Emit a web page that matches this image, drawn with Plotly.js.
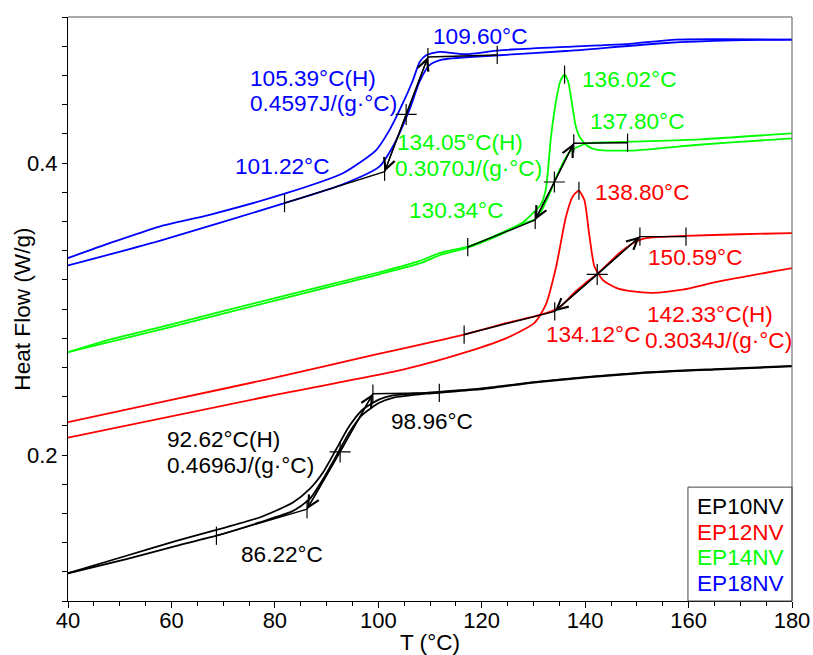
<!DOCTYPE html>
<html><head><meta charset="utf-8">
<script src="https://cdn.plot.ly/plotly-3.0.1.min.js"></script>
<style>body{margin:0;background:#fff}</style>
</head><body><div id="chart" style="width:813px;height:655px"></div>
<script>
// ---- data ----
const seriesNames = ['EP10NV', 'EP12NV', 'EP14NV', 'EP18NV'];
const seriesColors = ['#000000', '#ff0000', '#00ff00', '#0000ff'];

// EP10NV (two scans)
const ep10aT = [40, 51.3, 60.95, 68.7, 77.04, 83.5, 86.7, 89.3, 91.86, 94.4, 97.0, 100.2, 102.8, 109.25, 119.56, 131, 150.5, 165, 180];
const ep10aH = [0.1190, 0.1310, 0.1412, 0.1487, 0.1572, 0.1675, 0.1766, 0.1880, 0.2039, 0.2198, 0.2312, 0.2381, 0.2408, 0.2426, 0.2454, 0.2503, 0.2563, 0.2588, 0.2610];
const ep10bT = [40, 51.3, 60.95, 68.7, 77.04, 83.5, 86.7, 89.3, 91.86, 94.4, 97.0, 100.2, 102.8, 109.25, 119.56, 131, 150.5, 165, 180];
const ep10bH = [0.1190, 0.1287, 0.1378, 0.1447, 0.1538, 0.1617, 0.1697, 0.1834, 0.1993, 0.2155, 0.2278, 0.2358, 0.2392, 0.2420, 0.2449, 0.2500, 0.2560, 0.2585, 0.2607];

// EP12NV
const ep12aT = [40, 60, 78.3, 100, 116.6, 124.9, 130, 133, 135, 138, 140, 142.2, 144, 146.6, 149, 151, 153, 159.5, 170, 180];
const ep12aH = [0.2225, 0.2377, 0.2517, 0.2692, 0.2825, 0.2905, 0.2948, 0.2978, 0.3010, 0.3115, 0.3175, 0.3237, 0.3295, 0.3383, 0.3445, 0.3478, 0.3490, 0.3501, 0.3512, 0.3520];
const ep12bT = [40, 78.3, 104.95, 117.6, 124.9, 130.2, 132.4, 134.4, 136.3, 137.6, 138.75, 139.84, 140.8, 141.8, 143.4, 146, 149.2, 153, 158.8, 165.9, 180];
const ep12bH = [0.2119, 0.2399, 0.2586, 0.2711, 0.2802, 0.2905, 0.3030, 0.3291, 0.3633, 0.3770, 0.3810, 0.3747, 0.3508, 0.3291, 0.3200, 0.3145, 0.3120, 0.3110, 0.3132, 0.3189, 0.3280];

// EP14NV
const ep14aT = [40, 48, 60, 80, 100, 108, 112, 117.3, 123.4, 128, 129.9, 131.5, 132.4, 133.4, 134.4, 135.2, 136.0, 136.7, 137.4, 138.2, 139, 140.5, 142.5, 149, 162, 175, 180];
const ep14aH = [0.2704, 0.2790, 0.2895, 0.3075, 0.3250, 0.3330, 0.3385, 0.3428, 0.3515, 0.3595, 0.3656, 0.3720, 0.3820, 0.4180, 0.4430, 0.4560, 0.4605, 0.4560, 0.4420, 0.4250, 0.4175, 0.4115, 0.4090, 0.4085, 0.4125, 0.4157, 0.4169];
const ep14bT = [40, 60, 80, 100, 108, 112, 117.3, 123.4, 128, 130.3, 131.5, 133, 134.5, 136, 137, 138.5, 140.5, 149.2, 162.1, 180];
const ep14bH = [0.2704, 0.2878, 0.3058, 0.3236, 0.3312, 0.3370, 0.3420, 0.3505, 0.3585, 0.3615, 0.3670, 0.3780, 0.3910, 0.4020, 0.4075, 0.4110, 0.4135, 0.4146, 0.4162, 0.4203];

// EP18NV
const ep18aT = [40, 48.06, 57.7, 67.38, 82.2, 93.14, 99.6, 102.16, 104.73, 106.7, 108, 109.25, 111.8, 117, 123.4, 136.3, 149.2, 157.6, 180];
const ep18aH = [0.3349, 0.3451, 0.3565, 0.3645, 0.3793, 0.3930, 0.4089, 0.4225, 0.4408, 0.4567, 0.4692, 0.4738, 0.4761, 0.4745, 0.4772, 0.4795, 0.4818, 0.4845, 0.4845];
const ep18bT = [40, 57.7, 81.87, 93.14, 100.2, 102.8, 106.0, 107.96, 109.9, 112.5, 123.4, 136.3, 155.6, 168.5, 180];
const ep18bH = [0.3298, 0.3467, 0.3725, 0.3854, 0.3975, 0.4111, 0.4362, 0.4556, 0.4670, 0.4709, 0.4738, 0.4767, 0.4822, 0.4840, 0.4845];

// glass transition analysis: [start tick, onset, midpoint, end, end tick]
const tgT = {
  EP10NV: [68.7, 86.22, 92.62, 98.96, 111.8],
  EP12NV: [116.6, 134.12, 142.33, 150.59, 159.5],
  EP14NV: [117.3, 130.34, 134.05, 137.80, 148.2],
  EP18NV: [81.87, 101.22, 105.39, 109.60, 123.0]
};
const tgH = {
  EP10NV: [0.1447, 0.1629, 0.2021, 0.2420, 0.2426],
  EP12NV: [0.2825, 0.2984, 0.3237, 0.3496, 0.3496],
  EP14NV: [0.3424, 0.3610, 0.3870, 0.4135, 0.4139],
  EP18NV: [0.3725, 0.3940, 0.4333, 0.4726, 0.4740]
};
const cpStep = {EP10NV: '0.4696', EP12NV: '0.3034', EP14NV: '0.3070', EP18NV: '0.4597'};
// relaxation peaks
const peakT = {EP12NV: 138.80, EP14NV: 136.02};
const peakH = {EP12NV: 0.3810, EP14NV: 0.4605};

// ---- build ----
const curves = {
  EP10NV: [[ep10aT, ep10aH], [ep10bT, ep10bH]],
  EP12NV: [[ep12aT, ep12aH], [ep12bT, ep12bH]],
  EP14NV: [[ep14aT, ep14aH], [ep14bT, ep14bH]],
  EP18NV: [[ep18aT, ep18aH], [ep18bT, ep18bH]]
};
const FONT = 'Liberation Sans, Arial, sans-serif';
const TXT = 22.6;
const traces = [];
seriesNames.forEach((n, i) => {
  curves[n].forEach(c => traces.push({
    x: c[0], y: c[1], type: 'scatter', mode: 'lines', showlegend: false,
    line: {color: seriesColors[i], width: 1.8, shape: 'spline', smoothing: 0.6},
    hoverinfo: 'skip'
  }));
});
seriesNames.forEach(n => {
  const t = tgT[n], h = tgH[n];
  traces.push({x: t, y: h, type: 'scatter', mode: 'lines', showlegend: false,
    line: {color: '#000', width: 1.4}, hoverinfo: 'skip'});
  const tx = [t[0], t[1], t[3], t[4]], ty = [h[0], h[1], h[3], h[4]];
  if (peakT[n] !== undefined) { tx.push(peakT[n]); ty.push(peakH[n]); }
  traces.push({x: tx, y: ty, type: 'scatter', mode: 'markers', showlegend: false,
    marker: {symbol: 'line-ns', size: 13, color: '#000', line: {width: 1.2, color: '#000'}}, hoverinfo: 'skip'});
  traces.push({x: [t[2]], y: [h[2]], type: 'scatter', mode: 'markers', showlegend: false,
    marker: {symbol: 'cross-thin', size: 15, color: '#000', line: {width: 1.2, color: '#000'}}, hoverinfo: 'skip'});
});

const annotations = [];
seriesNames.forEach(n => {
  const t = tgT[n], h = tgH[n];
  [1, 3].forEach(k => annotations.push({
    x: t[k], y: h[k], ax: t[2], ay: h[2], xref: 'x', yref: 'y', axref: 'x', ayref: 'y',
    text: '', showarrow: true, arrowhead: 5, arrowsize: 1.7, arrowwidth: 1.3, arrowcolor: '#000', standoff: 0, startstandoff: 0
  }));
});
const fmt = v => v.toFixed(2) + '°C';
function label(text, x, y, color) {
  annotations.push({x: x, y: y, xref: 'x', yref: 'y', text: text, showarrow: false,
    xanchor: 'left', yanchor: 'middle', font: {family: FONT, size: TXT, color: color}});
}
const col = {}; seriesNames.forEach((n, i) => col[n] = seriesColors[i]);
// EP18NV labels
label(fmt(tgT.EP18NV[3]), 110.2, 0.4868, col.EP18NV);
label(fmt(tgT.EP18NV[2]) + '(H)', 74.9, 0.4578, col.EP18NV);
label(cpStep.EP18NV + 'J/(g·°C)', 74.8, 0.4407, col.EP18NV);
label(fmt(tgT.EP18NV[1]), 71.9, 0.3977, col.EP18NV);
// EP14NV labels
label(fmt(peakT.EP14NV), 139.1, 0.4575, col.EP14NV);
label(fmt(tgT.EP14NV[3]), 140.6, 0.4281, col.EP14NV);
label(fmt(tgT.EP14NV[2]) + '(H)', 103.3, 0.4138, col.EP14NV);
label(cpStep.EP14NV + 'J/(g·°C)', 102.9, 0.3964, col.EP14NV);
label(fmt(tgT.EP14NV[1]), 105.6, 0.3676, col.EP14NV);
// EP12NV labels
label(fmt(peakT.EP12NV), 141.6, 0.3801, col.EP12NV);
label(fmt(tgT.EP12NV[3]), 151.7, 0.3356, col.EP12NV);
label(fmt(tgT.EP12NV[1]), 132.0, 0.2827, col.EP12NV);
label(fmt(tgT.EP12NV[2]) + '(H)', 151.6, 0.2960, col.EP12NV);
label(cpStep.EP12NV + 'J/(g·°C)', 151.2, 0.2786, col.EP12NV);
// EP10NV labels
label(fmt(tgT.EP10NV[2]) + '(H)', 58.8, 0.2108, col.EP10NV);
label(cpStep.EP10NV + 'J/(g·°C)', 58.8, 0.1926, col.EP10NV);
label(fmt(tgT.EP10NV[3]), 102.0, 0.2231, col.EP10NV);
label(fmt(tgT.EP10NV[1]), 73.0, 0.1320, col.EP10NV);

// legend (text coloured like the series)
seriesNames.forEach((n, i) => annotations.push({
  xref: 'paper', yref: 'paper', x: 0.866, y: 0.1615 - i * 0.0437, xanchor: 'left', yanchor: 'middle',
  text: n, showarrow: false, font: {family: FONT, size: TXT, color: seriesColors[i]}
}));
// y-axis title
annotations.push({xref: 'paper', yref: 'paper', x: -0.064, y: 0.5, xanchor: 'center', yanchor: 'middle',
  text: 'Heat Flow (W/g)', textangle: -90, showarrow: false, font: {family: FONT, size: TXT, color: '#000'}});

const layout = {
  width: 813, height: 655,
  margin: {l: 68, r: 21, t: 17, b: 54},
  paper_bgcolor: '#fff', plot_bgcolor: '#fff',
  font: {family: FONT, size: 22, color: '#000'},
  showlegend: false,
  xaxis: {
    range: [40, 180], tick0: 40, dtick: 20, ticks: 'outside', ticklen: 6, tickwidth: 1, tickcolor: '#000',
    minor: {dtick: 5, ticks: 'outside', ticklen: 4, tickcolor: '#000', showgrid: false},
    showline: true, linecolor: '#000', linewidth: 1, showgrid: false, zeroline: false,
    ticklabelstandoff: -6,
    tickfont: {family: FONT, size: 22}, title: {text: 'T (°C)', font: {family: FONT, size: TXT}, standoff: 2}
  },
  yaxis: {
    range: [0.1, 0.5], tick0: 0, dtick: 0.2, tickformat: '.1f', ticks: 'outside', ticklen: 5, tickcolor: '#000',
    minor: {dtick: 0.02, tick0: 0, ticks: 'outside', ticklen: 5, tickcolor: '#000', showgrid: false},
    showline: true, linecolor: '#000', linewidth: 1, showgrid: false, zeroline: false,
    tickfont: {family: FONT, size: 22}
  },
  yaxis2: {
    overlaying: 'y', side: 'left', range: [0.1, 0.5], tickmode: 'array', tickvals: [0.22, 0.42],
    ticks: 'outside', ticklen: 10, tickcolor: '#000', showticklabels: false, showline: false,
    showgrid: false, zeroline: false
  },
  shapes: [
    {type: 'line', xref: 'paper', yref: 'paper', x0: 0, x1: 1, y0: 1, y1: 1, line: {color: '#555', width: 1}},
    {type: 'line', xref: 'paper', yref: 'paper', x0: 1, x1: 1, y0: 0, y1: 1, line: {color: '#555', width: 1}},
    {type: 'rect', xref: 'paper', yref: 'paper', x0: 0.8563, x1: 1, y0: 0, y1: 0.195, line: {color: '#444', width: 1}}
  ],
  annotations: annotations
};
Plotly.newPlot('chart', traces, layout, {displayModeBar: false, staticPlot: true});
</script></body></html>
